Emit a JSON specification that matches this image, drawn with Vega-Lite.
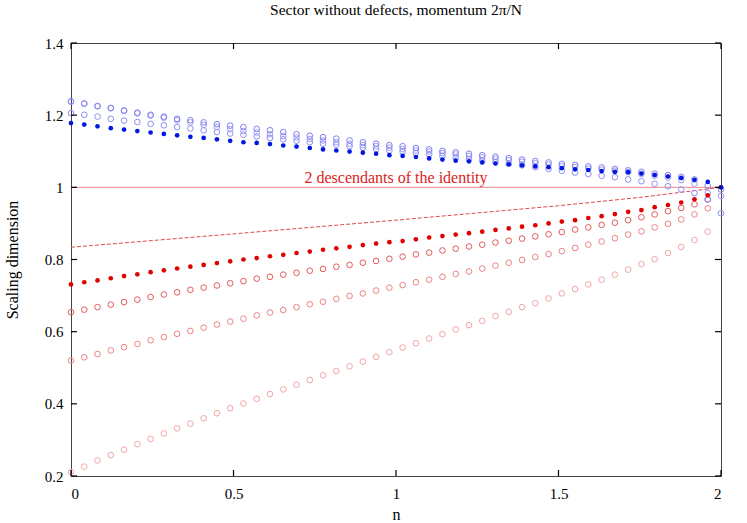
{
"$schema":"https://vega.github.io/schema/vega-lite/v6.json",
"width":650,"height":433,
"autosize":{"type":"none"},
"padding":{"left":71,"top":43,"right":26,"bottom":47},
"title":{"text":"Sector without defects, momentum 2π/N","font":"Liberation Serif","fontSize":15.5,"fontWeight":"normal","offset":18,"color":"#000"},
"config":{"view":{"stroke":"#444","strokeWidth":1},"axis":{"labelFont":"Liberation Serif","labelFontSize":15,"titleFont":"Liberation Serif","titleFontSize":16,"titleFontWeight":"normal","grid":false,"ticks":false,"labelColor":"#000","titleColor":"#000","domain":false}},
"datasets":{
"tk":[{"ax":"x","v":0},{"ax":"x","v":0.5},{"ax":"x","v":1},{"ax":"x","v":1.5},{"ax":"x","v":2},{"ax":"y","v":0.2},{"ax":"y","v":0.4},{"ax":"y","v":0.6},{"ax":"y","v":0.8},{"ax":"y","v":1},{"ax":"y","v":1.2},{"ax":"y","v":1.4}],
"dash":[{"n":0,"y":0.834},{"n":0.5,"y":0.871},{"n":1,"y":0.909},{"n":1.5,"y":0.949},{"n":1.75,"y":0.972},{"n":2,"y":1.0}],
"lab":[{"n":1,"y":1,"t":"2 descendants of the identity"}],
"pts":[
{"s":"R3","n":0,"y":0.211},{"s":"R3","n":0.0408,"y":0.226},{"s":"R3","n":0.0816,"y":0.243},{"s":"R3","n":0.1224,"y":0.258},{"s":"R3","n":0.1633,"y":0.273},{"s":"R3","n":0.2041,"y":0.288},{"s":"R3","n":0.2449,"y":0.303},{"s":"R3","n":0.2857,"y":0.318},{"s":"R3","n":0.3265,"y":0.332},{"s":"R3","n":0.3673,"y":0.345},{"s":"R3","n":0.4082,"y":0.360},{"s":"R3","n":0.4490,"y":0.374},{"s":"R3","n":0.4898,"y":0.388},{"s":"R3","n":0.5306,"y":0.401},{"s":"R3","n":0.5714,"y":0.414},{"s":"R3","n":0.6122,"y":0.427},{"s":"R3","n":0.6531,"y":0.440},{"s":"R3","n":0.6939,"y":0.453},{"s":"R3","n":0.7347,"y":0.466},{"s":"R3","n":0.7755,"y":0.479},{"s":"R3","n":0.8163,"y":0.491},{"s":"R3","n":0.8571,"y":0.504},{"s":"R3","n":0.8980,"y":0.517},{"s":"R3","n":0.9388,"y":0.530},{"s":"R3","n":0.9796,"y":0.543},{"s":"R3","n":1.0204,"y":0.556},{"s":"R3","n":1.0612,"y":0.568},{"s":"R3","n":1.1020,"y":0.581},{"s":"R3","n":1.1429,"y":0.593},{"s":"R3","n":1.1837,"y":0.606},{"s":"R3","n":1.2245,"y":0.618},{"s":"R3","n":1.2653,"y":0.630},{"s":"R3","n":1.3061,"y":0.643},{"s":"R3","n":1.3469,"y":0.655},{"s":"R3","n":1.3878,"y":0.668},{"s":"R3","n":1.4286,"y":0.679},{"s":"R3","n":1.4694,"y":0.692},{"s":"R3","n":1.5102,"y":0.706},{"s":"R3","n":1.5510,"y":0.718},{"s":"R3","n":1.5918,"y":0.731},{"s":"R3","n":1.6327,"y":0.744},{"s":"R3","n":1.6735,"y":0.758},{"s":"R3","n":1.7143,"y":0.772},{"s":"R3","n":1.7551,"y":0.787},{"s":"R3","n":1.7959,"y":0.801},{"s":"R3","n":1.8367,"y":0.818},{"s":"R3","n":1.8776,"y":0.835},{"s":"R3","n":1.9184,"y":0.854},{"s":"R3","n":1.9592,"y":0.877},
{"s":"R2","n":0,"y":0.520},{"s":"R2","n":0.0408,"y":0.529},{"s":"R2","n":0.0816,"y":0.538},{"s":"R2","n":0.1224,"y":0.548},{"s":"R2","n":0.1633,"y":0.557},{"s":"R2","n":0.2041,"y":0.566},{"s":"R2","n":0.2449,"y":0.576},{"s":"R2","n":0.2857,"y":0.585},{"s":"R2","n":0.3265,"y":0.594},{"s":"R2","n":0.3673,"y":0.602},{"s":"R2","n":0.4082,"y":0.611},{"s":"R2","n":0.4490,"y":0.620},{"s":"R2","n":0.4898,"y":0.628},{"s":"R2","n":0.5306,"y":0.636},{"s":"R2","n":0.5714,"y":0.645},{"s":"R2","n":0.6122,"y":0.653},{"s":"R2","n":0.6531,"y":0.660},{"s":"R2","n":0.6939,"y":0.668},{"s":"R2","n":0.7347,"y":0.676},{"s":"R2","n":0.7755,"y":0.683},{"s":"R2","n":0.8163,"y":0.691},{"s":"R2","n":0.8571,"y":0.699},{"s":"R2","n":0.8980,"y":0.706},{"s":"R2","n":0.9388,"y":0.714},{"s":"R2","n":0.9796,"y":0.722},{"s":"R2","n":1.0204,"y":0.729},{"s":"R2","n":1.0612,"y":0.737},{"s":"R2","n":1.1020,"y":0.744},{"s":"R2","n":1.1429,"y":0.752},{"s":"R2","n":1.1837,"y":0.760},{"s":"R2","n":1.2245,"y":0.767},{"s":"R2","n":1.2653,"y":0.775},{"s":"R2","n":1.3061,"y":0.783},{"s":"R2","n":1.3469,"y":0.791},{"s":"R2","n":1.3878,"y":0.799},{"s":"R2","n":1.4286,"y":0.807},{"s":"R2","n":1.4694,"y":0.815},{"s":"R2","n":1.5102,"y":0.823},{"s":"R2","n":1.5510,"y":0.832},{"s":"R2","n":1.5918,"y":0.841},{"s":"R2","n":1.6327,"y":0.850},{"s":"R2","n":1.6735,"y":0.859},{"s":"R2","n":1.7143,"y":0.869},{"s":"R2","n":1.7551,"y":0.878},{"s":"R2","n":1.7959,"y":0.889},{"s":"R2","n":1.8367,"y":0.899},{"s":"R2","n":1.8776,"y":0.911},{"s":"R2","n":1.9184,"y":0.925},{"s":"R2","n":1.9592,"y":0.942},
{"s":"R1","n":0,"y":0.654},{"s":"R1","n":0.0408,"y":0.661},{"s":"R1","n":0.0816,"y":0.668},{"s":"R1","n":0.1224,"y":0.675},{"s":"R1","n":0.1633,"y":0.682},{"s":"R1","n":0.2041,"y":0.689},{"s":"R1","n":0.2449,"y":0.696},{"s":"R1","n":0.2857,"y":0.703},{"s":"R1","n":0.3265,"y":0.709},{"s":"R1","n":0.3673,"y":0.716},{"s":"R1","n":0.4082,"y":0.722},{"s":"R1","n":0.4490,"y":0.728},{"s":"R1","n":0.4898,"y":0.734},{"s":"R1","n":0.5306,"y":0.740},{"s":"R1","n":0.5714,"y":0.747},{"s":"R1","n":0.6122,"y":0.752},{"s":"R1","n":0.6531,"y":0.758},{"s":"R1","n":0.6939,"y":0.763},{"s":"R1","n":0.7347,"y":0.769},{"s":"R1","n":0.7755,"y":0.774},{"s":"R1","n":0.8163,"y":0.780},{"s":"R1","n":0.8571,"y":0.785},{"s":"R1","n":0.8980,"y":0.791},{"s":"R1","n":0.9388,"y":0.796},{"s":"R1","n":0.9796,"y":0.802},{"s":"R1","n":1.0204,"y":0.808},{"s":"R1","n":1.0612,"y":0.814},{"s":"R1","n":1.1020,"y":0.819},{"s":"R1","n":1.1429,"y":0.825},{"s":"R1","n":1.1837,"y":0.830},{"s":"R1","n":1.2245,"y":0.836},{"s":"R1","n":1.2653,"y":0.841},{"s":"R1","n":1.3061,"y":0.847},{"s":"R1","n":1.3469,"y":0.852},{"s":"R1","n":1.3878,"y":0.858},{"s":"R1","n":1.4286,"y":0.864},{"s":"R1","n":1.4694,"y":0.870},{"s":"R1","n":1.5102,"y":0.876},{"s":"R1","n":1.5510,"y":0.883},{"s":"R1","n":1.5918,"y":0.889},{"s":"R1","n":1.6327,"y":0.896},{"s":"R1","n":1.6735,"y":0.902},{"s":"R1","n":1.7143,"y":0.909},{"s":"R1","n":1.7551,"y":0.917},{"s":"R1","n":1.7959,"y":0.925},{"s":"R1","n":1.8367,"y":0.934},{"s":"R1","n":1.8776,"y":0.943},{"s":"R1","n":1.9184,"y":0.953},{"s":"R1","n":1.9592,"y":0.967},
{"s":"Rf","n":0,"y":0.731},{"s":"Rf","n":0.0408,"y":0.737},{"s":"Rf","n":0.0816,"y":0.742},{"s":"Rf","n":0.1224,"y":0.748},{"s":"Rf","n":0.1633,"y":0.754},{"s":"Rf","n":0.2041,"y":0.759},{"s":"Rf","n":0.2449,"y":0.765},{"s":"Rf","n":0.2857,"y":0.770},{"s":"Rf","n":0.3265,"y":0.775},{"s":"Rf","n":0.3673,"y":0.780},{"s":"Rf","n":0.4082,"y":0.785},{"s":"Rf","n":0.4490,"y":0.790},{"s":"Rf","n":0.4898,"y":0.795},{"s":"Rf","n":0.5306,"y":0.800},{"s":"Rf","n":0.5714,"y":0.804},{"s":"Rf","n":0.6122,"y":0.809},{"s":"Rf","n":0.6531,"y":0.813},{"s":"Rf","n":0.6939,"y":0.818},{"s":"Rf","n":0.7347,"y":0.822},{"s":"Rf","n":0.7755,"y":0.827},{"s":"Rf","n":0.8163,"y":0.831},{"s":"Rf","n":0.8571,"y":0.835},{"s":"Rf","n":0.8980,"y":0.840},{"s":"Rf","n":0.9388,"y":0.844},{"s":"Rf","n":0.9796,"y":0.848},{"s":"Rf","n":1.0204,"y":0.851},{"s":"Rf","n":1.0612,"y":0.856},{"s":"Rf","n":1.1020,"y":0.861},{"s":"Rf","n":1.1429,"y":0.865},{"s":"Rf","n":1.1837,"y":0.869},{"s":"Rf","n":1.2245,"y":0.873},{"s":"Rf","n":1.2653,"y":0.877},{"s":"Rf","n":1.3061,"y":0.882},{"s":"Rf","n":1.3469,"y":0.886},{"s":"Rf","n":1.3878,"y":0.891},{"s":"Rf","n":1.4286,"y":0.895},{"s":"Rf","n":1.4694,"y":0.900},{"s":"Rf","n":1.5102,"y":0.905},{"s":"Rf","n":1.5510,"y":0.909},{"s":"Rf","n":1.5918,"y":0.915},{"s":"Rf","n":1.6327,"y":0.920},{"s":"Rf","n":1.6735,"y":0.926},{"s":"Rf","n":1.7143,"y":0.932},{"s":"Rf","n":1.7551,"y":0.937},{"s":"Rf","n":1.7959,"y":0.945},{"s":"Rf","n":1.8367,"y":0.951},{"s":"Rf","n":1.8776,"y":0.958},{"s":"Rf","n":1.9184,"y":0.967},{"s":"Rf","n":1.9592,"y":0.978},{"s":"Rf","n":2,"y":1.000},
{"s":"B","n":0,"y":1.206},{"s":"B","n":0.0408,"y":1.201},{"s":"B","n":0.0816,"y":1.196},{"s":"B","n":0.1224,"y":1.190},{"s":"B","n":0.1633,"y":1.185},{"s":"B","n":0.2041,"y":1.181},{"s":"B","n":0.2449,"y":1.176},{"s":"B","n":0.2857,"y":1.172},{"s":"B","n":0.3265,"y":1.167},{"s":"B","n":0.3673,"y":1.163},{"s":"B","n":0.4082,"y":1.158},{"s":"B","n":0.4490,"y":1.153},{"s":"B","n":0.4898,"y":1.149},{"s":"B","n":0.5306,"y":1.146},{"s":"B","n":0.5714,"y":1.141},{"s":"B","n":0.6122,"y":1.137},{"s":"B","n":0.6531,"y":1.133},{"s":"B","n":0.6939,"y":1.129},{"s":"B","n":0.7347,"y":1.125},{"s":"B","n":0.7755,"y":1.121},{"s":"B","n":0.8163,"y":1.118},{"s":"B","n":0.8571,"y":1.114},{"s":"B","n":0.8980,"y":1.110},{"s":"B","n":0.9388,"y":1.106},{"s":"B","n":0.9796,"y":1.102},{"s":"B","n":1.0204,"y":1.099},{"s":"B","n":1.0612,"y":1.095},{"s":"B","n":1.1020,"y":1.091},{"s":"B","n":1.1429,"y":1.087},{"s":"B","n":1.1837,"y":1.082},{"s":"B","n":1.2245,"y":1.078},{"s":"B","n":1.2653,"y":1.074},{"s":"B","n":1.3061,"y":1.070},{"s":"B","n":1.3469,"y":1.065},{"s":"B","n":1.3878,"y":1.061},{"s":"B","n":1.4286,"y":1.056},{"s":"B","n":1.4694,"y":1.051},{"s":"B","n":1.5102,"y":1.046},{"s":"B","n":1.5510,"y":1.041},{"s":"B","n":1.5918,"y":1.037},{"s":"B","n":1.6327,"y":1.032},{"s":"B","n":1.6735,"y":1.028},{"s":"B","n":1.7143,"y":1.022},{"s":"B","n":1.7551,"y":1.017},{"s":"B","n":1.7959,"y":1.010},{"s":"B","n":1.8367,"y":1.003},{"s":"B","n":1.8776,"y":0.994},{"s":"B","n":1.9184,"y":0.984},{"s":"B","n":1.9592,"y":0.966},{"s":"B","n":2,"y":0.928},
{"s":"A2","n":0,"y":1.238},{"s":"A2","n":0.0408,"y":1.232},{"s":"A2","n":0.0816,"y":1.225},{"s":"A2","n":0.1224,"y":1.219},{"s":"A2","n":0.1633,"y":1.212},{"s":"A2","n":0.2041,"y":1.205},{"s":"A2","n":0.2449,"y":1.199},{"s":"A2","n":0.2857,"y":1.193},{"s":"A2","n":0.3265,"y":1.186},{"s":"A2","n":0.3673,"y":1.180},{"s":"A2","n":0.4082,"y":1.173},{"s":"A2","n":0.4490,"y":1.167},{"s":"A2","n":0.4898,"y":1.161},{"s":"A2","n":0.5306,"y":1.156},{"s":"A2","n":0.5714,"y":1.152},{"s":"A2","n":0.6122,"y":1.147},{"s":"A2","n":0.6531,"y":1.142},{"s":"A2","n":0.6939,"y":1.138},{"s":"A2","n":0.7347,"y":1.134},{"s":"A2","n":0.7755,"y":1.130},{"s":"A2","n":0.8163,"y":1.125},{"s":"A2","n":0.8571,"y":1.121},{"s":"A2","n":0.8980,"y":1.117},{"s":"A2","n":0.9388,"y":1.114},{"s":"A2","n":0.9796,"y":1.110},{"s":"A2","n":1.0204,"y":1.106},{"s":"A2","n":1.0612,"y":1.102},{"s":"A2","n":1.1020,"y":1.099},{"s":"A2","n":1.1429,"y":1.095},{"s":"A2","n":1.1837,"y":1.091},{"s":"A2","n":1.2245,"y":1.087},{"s":"A2","n":1.2653,"y":1.083},{"s":"A2","n":1.3061,"y":1.079},{"s":"A2","n":1.3469,"y":1.075},{"s":"A2","n":1.3878,"y":1.071},{"s":"A2","n":1.4286,"y":1.067},{"s":"A2","n":1.4694,"y":1.063},{"s":"A2","n":1.5102,"y":1.059},{"s":"A2","n":1.5510,"y":1.056},{"s":"A2","n":1.5918,"y":1.052},{"s":"A2","n":1.6327,"y":1.049},{"s":"A2","n":1.6735,"y":1.046},{"s":"A2","n":1.7143,"y":1.042},{"s":"A2","n":1.7551,"y":1.037},{"s":"A2","n":1.7959,"y":1.032},{"s":"A2","n":1.8367,"y":1.027},{"s":"A2","n":1.8776,"y":1.020},{"s":"A2","n":1.9184,"y":1.010},{"s":"A2","n":1.9592,"y":0.984},{"s":"A2","n":2,"y":0.976},
{"s":"A","n":0,"y":1.238},{"s":"A","n":0.0408,"y":1.232},{"s":"A","n":0.0816,"y":1.225},{"s":"A","n":0.1224,"y":1.220},{"s":"A","n":0.1633,"y":1.213},{"s":"A","n":0.2041,"y":1.207},{"s":"A","n":0.2449,"y":1.201},{"s":"A","n":0.2857,"y":1.196},{"s":"A","n":0.3265,"y":1.190},{"s":"A","n":0.3673,"y":1.186},{"s":"A","n":0.4082,"y":1.180},{"s":"A","n":0.4490,"y":1.175},{"s":"A","n":0.4898,"y":1.171},{"s":"A","n":0.5306,"y":1.167},{"s":"A","n":0.5714,"y":1.162},{"s":"A","n":0.6122,"y":1.158},{"s":"A","n":0.6531,"y":1.153},{"s":"A","n":0.6939,"y":1.147},{"s":"A","n":0.7347,"y":1.143},{"s":"A","n":0.7755,"y":1.139},{"s":"A","n":0.8163,"y":1.135},{"s":"A","n":0.8571,"y":1.130},{"s":"A","n":0.8980,"y":1.125},{"s":"A","n":0.9388,"y":1.121},{"s":"A","n":0.9796,"y":1.117},{"s":"A","n":1.0204,"y":1.114},{"s":"A","n":1.0612,"y":1.109},{"s":"A","n":1.1020,"y":1.105},{"s":"A","n":1.1429,"y":1.101},{"s":"A","n":1.1837,"y":1.097},{"s":"A","n":1.2245,"y":1.093},{"s":"A","n":1.2653,"y":1.089},{"s":"A","n":1.3061,"y":1.085},{"s":"A","n":1.3469,"y":1.081},{"s":"A","n":1.3878,"y":1.077},{"s":"A","n":1.4286,"y":1.073},{"s":"A","n":1.4694,"y":1.069},{"s":"A","n":1.5102,"y":1.065},{"s":"A","n":1.5510,"y":1.062},{"s":"A","n":1.5918,"y":1.058},{"s":"A","n":1.6327,"y":1.055},{"s":"A","n":1.6735,"y":1.051},{"s":"A","n":1.7143,"y":1.047},{"s":"A","n":1.7551,"y":1.043},{"s":"A","n":1.7959,"y":1.038},{"s":"A","n":1.8367,"y":1.034},{"s":"A","n":1.8776,"y":1.029},{"s":"A","n":1.9184,"y":1.022},{"s":"A","n":1.9592,"y":1.004},{"s":"A","n":2,"y":0.994},
{"s":"Bf","n":0,"y":1.178},{"s":"Bf","n":0.0408,"y":1.174},{"s":"Bf","n":0.0816,"y":1.169},{"s":"Bf","n":0.1224,"y":1.164},{"s":"Bf","n":0.1633,"y":1.160},{"s":"Bf","n":0.2041,"y":1.156},{"s":"Bf","n":0.2449,"y":1.152},{"s":"Bf","n":0.2857,"y":1.148},{"s":"Bf","n":0.3265,"y":1.144},{"s":"Bf","n":0.3673,"y":1.140},{"s":"Bf","n":0.4082,"y":1.137},{"s":"Bf","n":0.4490,"y":1.133},{"s":"Bf","n":0.4898,"y":1.129},{"s":"Bf","n":0.5306,"y":1.125},{"s":"Bf","n":0.5714,"y":1.123},{"s":"Bf","n":0.6122,"y":1.120},{"s":"Bf","n":0.6531,"y":1.116},{"s":"Bf","n":0.6939,"y":1.113},{"s":"Bf","n":0.7347,"y":1.109},{"s":"Bf","n":0.7755,"y":1.105},{"s":"Bf","n":0.8163,"y":1.102},{"s":"Bf","n":0.8571,"y":1.099},{"s":"Bf","n":0.8980,"y":1.096},{"s":"Bf","n":0.9388,"y":1.093},{"s":"Bf","n":0.9796,"y":1.089},{"s":"Bf","n":1.0204,"y":1.087},{"s":"Bf","n":1.0612,"y":1.084},{"s":"Bf","n":1.1020,"y":1.080},{"s":"Bf","n":1.1429,"y":1.077},{"s":"Bf","n":1.1837,"y":1.074},{"s":"Bf","n":1.2245,"y":1.072},{"s":"Bf","n":1.2653,"y":1.069},{"s":"Bf","n":1.3061,"y":1.066},{"s":"Bf","n":1.3469,"y":1.064},{"s":"Bf","n":1.3878,"y":1.061},{"s":"Bf","n":1.4286,"y":1.058},{"s":"Bf","n":1.4694,"y":1.056},{"s":"Bf","n":1.5102,"y":1.053},{"s":"Bf","n":1.5510,"y":1.050},{"s":"Bf","n":1.5918,"y":1.048},{"s":"Bf","n":1.6327,"y":1.045},{"s":"Bf","n":1.6735,"y":1.043},{"s":"Bf","n":1.7143,"y":1.042},{"s":"Bf","n":1.7551,"y":1.038},{"s":"Bf","n":1.7959,"y":1.034},{"s":"Bf","n":1.8367,"y":1.030},{"s":"Bf","n":1.8776,"y":1.026},{"s":"Bf","n":1.9184,"y":1.021},{"s":"Bf","n":1.9592,"y":1.015},{"s":"Bf","n":2,"y":1.000}
]},
"layer":[
{"data":{"name":"lab"},"mark":{"type":"rule","color":"#f08a8a","strokeWidth":1},"encoding":{"y":{"datum":1,"type":"quantitative","title":"Scaling dimension","scale":{"domain":[0.2,1.4],"nice":false,"zero":false}}}},
{"data":{"name":"dash"},"mark":{"type":"line","color":"#e04a4a","strokeWidth":1,"strokeDash":[4,2]},"encoding":{"x":{"field":"n","type":"quantitative","title":"n","scale":{"domain":[0,2],"nice":false,"zero":false}},"y":{"field":"y","type":"quantitative","title":"Scaling dimension"}}},
{"data":{"name":"lab"},"mark":{"type":"text","font":"Liberation Serif","fontSize":16,"color":"#dd2222","baseline":"bottom","dy":-1},"encoding":{"x":{"field":"n","type":"quantitative","title":"n"},"y":{"field":"y","type":"quantitative","title":"Scaling dimension"},"text":{"field":"t"}}},
{"data":{"name":"pts"},"transform":[{"filter":"datum.s!='Rf' && datum.s!='Bf'"}],"mark":{"type":"point","shape":"circle","filled":false,"size":32,"strokeWidth":1,"opacity":1},"encoding":{"x":{"field":"n","type":"quantitative","title":"n","axis":{"values":[0,0.5,1,1.5,2],"format":"~g","title":"n","labelPadding":10,"titlePadding":5}},"y":{"field":"y","type":"quantitative","title":"Scaling dimension","axis":{"values":[0.2,0.4,0.6,0.8,1,1.2,1.4],"format":"~g","title":"Scaling dimension","labelPadding":8,"titlePadding":24}},"stroke":{"field":"s","type":"nominal","scale":{"domain":["R3","R2","R1","B","A2","A"],"range":["#f4a4a4","#ec8282","#e25a5a","#8c8cf4","#9a9af6","#8080f0"]},"legend":null}}},
{"data":{"name":"pts"},"transform":[{"filter":"datum.s=='Rf' || datum.s=='Bf'"}],"mark":{"type":"point","shape":"circle","filled":true,"size":22,"opacity":1,"strokeWidth":0},"encoding":{"x":{"field":"n","type":"quantitative","title":"n"},"y":{"field":"y","type":"quantitative","title":"Scaling dimension"},"fill":{"field":"s","type":"nominal","scale":{"domain":["Rf","Bf"],"range":["#e00000","#0018e0"]},"legend":null}}},
{"data":{"name":"tk"},"transform":[{"filter":"datum.ax=='x'"}],"mark":{"type":"tick","orient":"vertical","size":6,"thickness":1.2,"color":"#000","opacity":1},"encoding":{"x":{"field":"v","type":"quantitative","title":"n"},"y":{"datum":0.2083,"type":"quantitative","title":"Scaling dimension"}}},
{"data":{"name":"tk"},"transform":[{"filter":"datum.ax=='x'"}],"mark":{"type":"tick","orient":"vertical","size":6,"thickness":1.2,"color":"#000","opacity":1},"encoding":{"x":{"field":"v","type":"quantitative","title":"n"},"y":{"datum":1.3917,"type":"quantitative","title":"Scaling dimension"}}},
{"data":{"name":"tk"},"transform":[{"filter":"datum.ax=='y'"}],"mark":{"type":"tick","orient":"horizontal","size":6,"thickness":1.2,"color":"#000","opacity":1},"encoding":{"y":{"field":"v","type":"quantitative","title":"Scaling dimension"},"x":{"datum":0.0092,"type":"quantitative","title":"n"}}},
{"data":{"name":"tk"},"transform":[{"filter":"datum.ax=='y'"}],"mark":{"type":"tick","orient":"horizontal","size":6,"thickness":1.2,"color":"#000","opacity":1},"encoding":{"y":{"field":"v","type":"quantitative","title":"Scaling dimension"},"x":{"datum":1.9908,"type":"quantitative","title":"n"}}}
]
}
